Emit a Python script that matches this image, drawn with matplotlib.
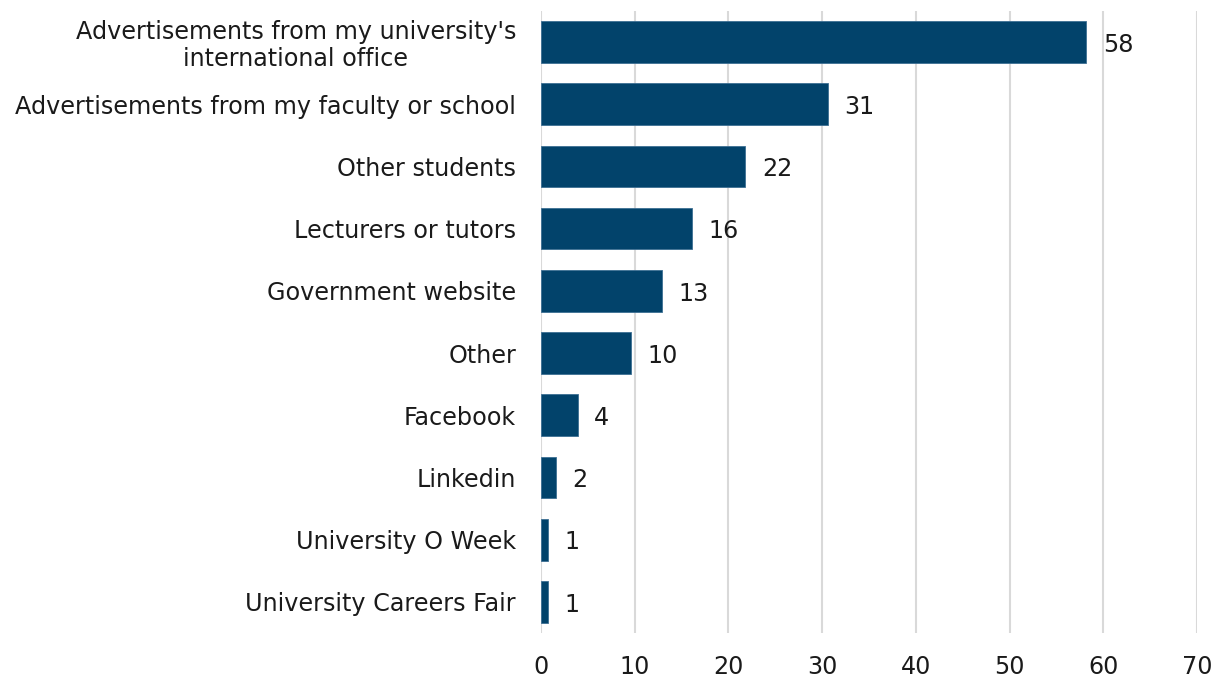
import matplotlib
matplotlib.use("Agg")
import matplotlib.pyplot as plt

# bar lengths; labels are the rounded figures shown
categories = [
    "Advertisements from my university's\ninternational office",
    "Advertisements from my faculty or school",
    "Other students",
    "Lecturers or tutors",
    "Government website",
    "Other",
    "Facebook",
    "Linkedin",
    "University O Week",
    "University Careers Fair",
]
values = [58.2, 30.6, 21.8, 16.1, 12.9, 9.6, 3.9, 1.6, 0.7, 0.7]
labels = ["58", "31", "22", "16", "13", "10", "4", "2", "1", "1"]
xticks = [0, 10, 20, 30, 40, 50, 60, 70]

BAR = "#02436b"
GRID = "#d9d9d9"
FS = 17.2

plt.rcParams["font.family"] = ["DejaVu Sans", "Liberation Sans"]
fig = plt.figure(figsize=(12.28, 6.77), dpi=100)
ax = fig.add_axes([0.4406, 0.065, 0.5342, 0.919])

pos = list(range(len(categories)))
ax.barh(pos, values, height=0.67, color=BAR, edgecolor="#3d6f93", linewidth=0.6, zorder=3)
for y, v, lab in zip(pos, values, labels):
    ax.annotate(lab, (v, y), xytext=(12, -2), textcoords="offset points",
                ha="left", va="center", fontsize=FS, color="#1a1a1a")

ax.set_ylim(len(categories) - 0.5, -0.5)
ax.set_xlim(0, 70)
ax.set_xticks(xticks)
ax.set_yticks(pos)
ax.set_yticklabels(categories, fontsize=FS, color="#1a1a1a", linespacing=1.15,
                   multialignment="center")
ax.tick_params(axis="x", labelsize=FS, length=0, pad=16, labelcolor="#1a1a1a")
ax.tick_params(axis="y", length=0, pad=18)
ax.grid(axis="x", color=GRID, linewidth=1.5, zorder=0)
ax.set_axisbelow(True)
for s in ax.spines.values():
    s.set_visible(False)

fig.savefig("out.png", dpi=100)
